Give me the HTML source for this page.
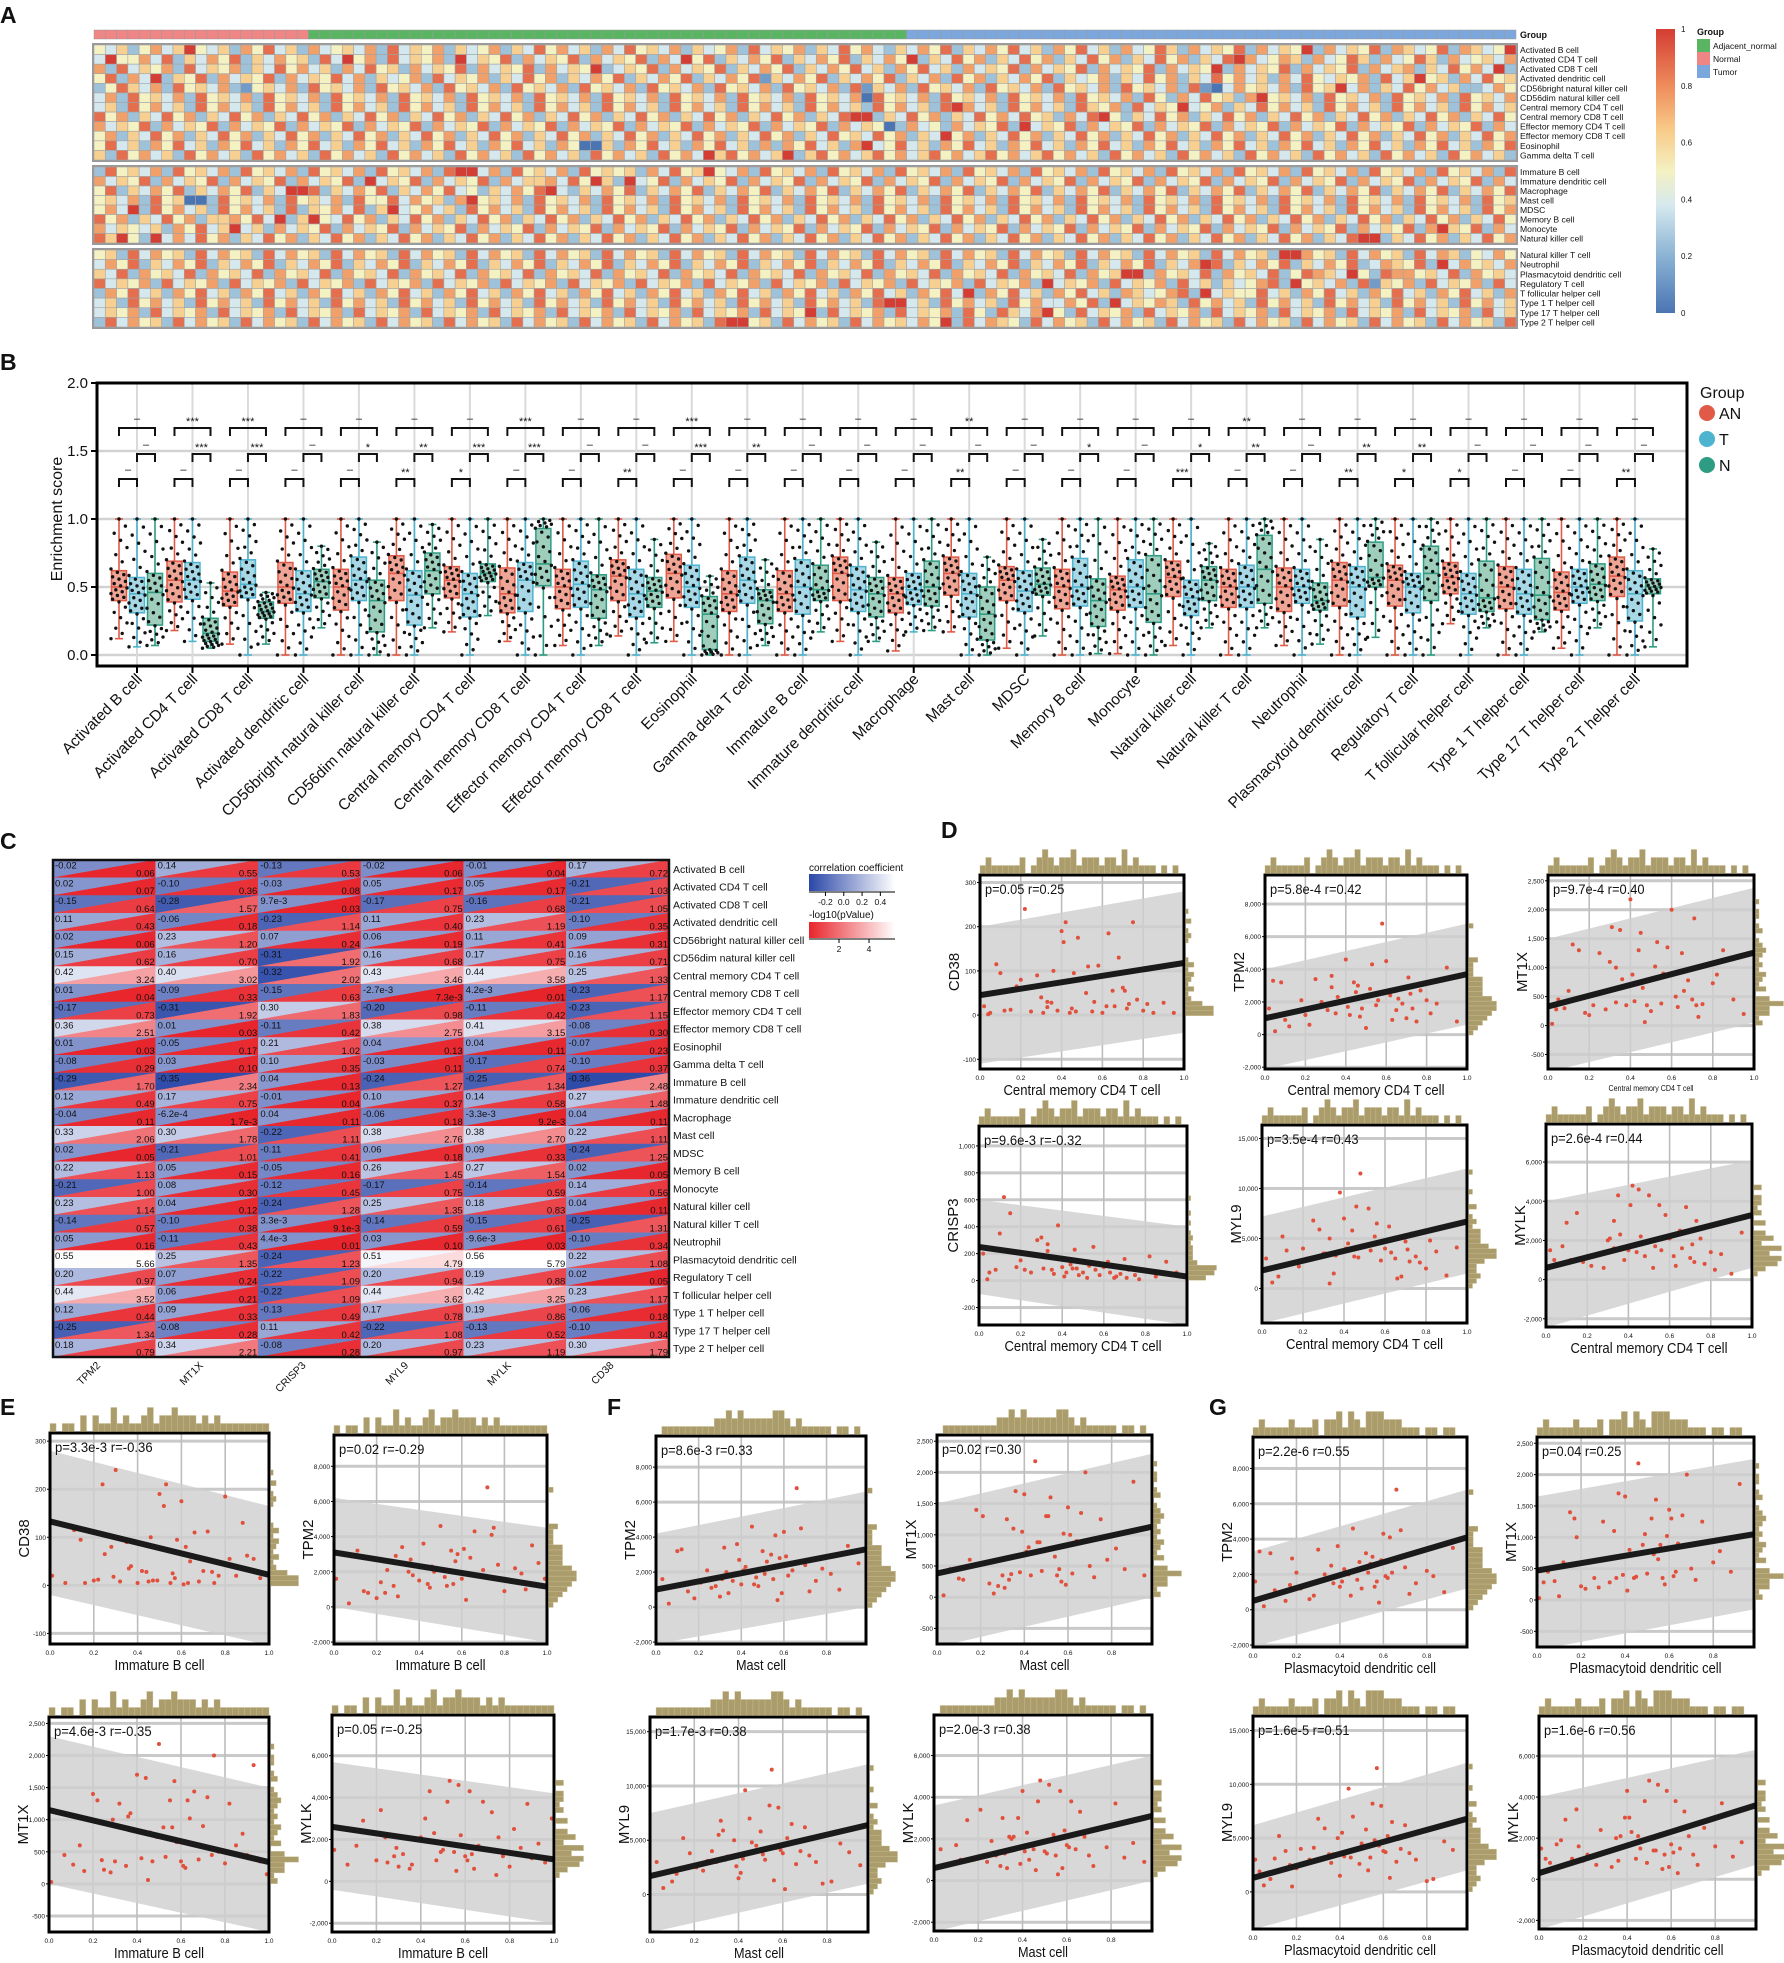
<!DOCTYPE html>
<html><head><meta charset="utf-8">
<style>
body{margin:0;background:#fff}
svg text{font-family:"Liberation Sans",Arial,sans-serif;fill:#111}
</style></head>
<body>
<svg id="fig" width="1784" height="1958" viewBox="0 0 1784 1958" xmlns="http://www.w3.org/2000/svg">
<rect x="0" y="0" width="1784" height="1958" fill="#fff"/>
<text x="0" y="23" font-size="23" font-weight="bold">A</text>
<text x="0" y="370" font-size="23" font-weight="bold">B</text>
<text x="0" y="849" font-size="23" font-weight="bold">C</text>
<text x="941" y="838" font-size="23" font-weight="bold">D</text>
<text x="0" y="1415" font-size="23" font-weight="bold">E</text>
<text x="607" y="1415" font-size="23" font-weight="bold">F</text>
<text x="1209" y="1415" font-size="23" font-weight="bold">G</text>
<g id="gA"></g>
<g id="gB"></g>
<g id="gC"></g>
<g id="gS"></g>
</svg>
<script>
const NS='http://www.w3.org/2000/svg';
function mk(tag,attrs,parent){const e=document.createElementNS(NS,tag);for(const k in attrs)e.setAttribute(k,attrs[k]);if(parent)parent.appendChild(e);return e;}
function txt(str,attrs,parent){const e=mk('text',attrs,parent);e.textContent=str;return e;}
function hex(c){return [parseInt(c.substr(1,2),16),parseInt(c.substr(3,2),16),parseInt(c.substr(5,2),16)];}
function lerpStops(stops,t){t=Math.max(0,Math.min(1,t));for(let i=1;i<stops.length;i++){if(t<=stops[i][0]){const a=stops[i-1],b=stops[i];const u=(t-a[0])/(b[0]-a[0]);const ca=hex(a[1]),cb=hex(b[1]);return 'rgb('+ca.map((v,k)=>Math.round(v+(cb[k]-v)*u)).join(',')+')';}}return stops[stops.length-1][1];}

/* ================= PANEL A DATA ================= */
const heatRows=['Activated B cell','Activated CD4 T cell','Activated CD8 T cell','Activated dendritic cell','CD56bright natural killer cell','CD56dim natural killer cell','Central memory CD4 T cell','Central memory CD8 T cell','Effector memory CD4 T cell','Effector memory CD8 T cell','Eosinophil','Gamma delta T cell','Immature  B cell','Immature dendritic cell','Macrophage','Mast cell','MDSC','Memory B cell','Monocyte','Natural killer cell','Natural killer T cell','Neutrophil','Plasmacytoid dendritic cell','Regulatory T cell','T follicular helper cell','Type 1 T helper cell','Type 17 T helper cell','Type 2 T helper cell'];
const heatGroupCounts=[19,53,54];
const heatGroupNames=['Normal','Adjacent_normal','Tumor'];
const heatDigits=[
"5463574695 4637584637 4564738465 7364573648 5746374856 4736457384 6573648574 3647583647 5846375846 3745863746 5837465937 4658376458 3764593746",
"6475836495 5748364758 3647563849 5738465739 4658374658 3746583749 5836475836 4758364759 3648573648 5736485736 4857364897 4576374586 3745863745",
"7364857493 3645738465 7384657364 8574637485 6374658374 6583746593 4658374658 3647583647 5846375846 3746583746 5837465837 4659374658 3746583746",
"4657384695 6374856374 6583749365 8374658374 6584736457 3846573648 5736475836 4758364758 2647583647 5836473857 3647583645 7364857364 8574637485",
"5647385694 7364857463 3475864735 8647385647 3256473856 4738564738 5647385647 3856473856 4738564738 5647382647 3856473856 4738564738 5647382147",
"3748563795 6473856473 8564738564 7385647385 6473856473 8564738564 7385647385 6473856473 8564738564 7385647385 6471856473 8564738564 7385647385",
"6573846594 5736485746 3857463857 4638574638 5746385746 3857463857 4638574638 5746385746 3857463857 4638574638 5746385746 3857463897 4638574638",
"4856374895 3648573648 5736485736 4857364857 3648573648 5736485736 4857364857 3648573648 5736485736 4857364857 3648573648 5736489936 4857364857",
"5374658394 6583746583 7465837465 8374658374 6583746583 7465837465 8374658374 6583746583 7465837465 8374658374 6583746583 7465837465 8374651374",
"6485736495 7364857364 8573648573 6485736485 7364857364 8573648573 6485736485 7364857364 8573648573 6485736485 7364857364 8573648573 6485736485",
"3758463794 5846375846 3758463758 4637584637 5846375846 3758463758 4637584637 5846375846 3758463758 4637584637 5846375846 3751163758 4637584637",
"4968574693 6857468574 6857468574 6857463857 4638574638 5746385746 3857463857 4638574638 5746385746 3857463857 4638574638 5746385746 3857463857",
"5637485695 4738564738 5647385647 3856473856 4738564738 5647385647 3856473856 4738564738 5647385647 3856473856 4738564738 5647389947 3856473856",
"6748596394 5837465837 4658374658 3746583746 5837465837 4658374658 3746583746 5837465837 4658374658 3746583746 5837465837 4658394658 3746583746",
"4536475894 3647583647 5836475836 4758364758 3647583647 5836475836 4758364758 3647583647 5836475836 4758364758 3647583647 5836499836 4758364758",
"5847563795 6473856473 8564738564 7385647385 6473856473 8564738564 7385647385 6473856473 8564738564 7385647385 6473856473 8561138564 7385647385",
"3657483694 5746385746 3857463857 4638574638 5746385746 3857463857 4638574638 5746385746 3857463857 4638574638 5746385746 3857493857 4638574638",
"6758493695 4857364857 3648573648 5736485736 4857364857 3648573648 5736485736 4857364857 3648573648 5736485736 4857364857 3648593648 5736485736",
"4637584694 6374658374 6583746583 7465837465 8374658374 6583746583 7465837465 8374658374 6583746583 7465837465 8374658374 6583796583 7465837465",
"5748695394 7485736485 7364857364 8573648573 6485736485 7364857364 8573648573 6485736485 7364857364 8573648573 6485736485 7364899364 8573648573",
"6354758463 5638475638 4756384756 3847563847 5638475638 4756384756 3847563847 5638475638 4756384756 3847563847 5638475638 4756399756 3847563847",
"4765839475 6475836475 8364758364 7583647583 6475836475 8364758364 7583647583 6475836475 8364758364 7583647583 6475836475 8364798364 7583647583",
"5876495387 7564837564 8375648375 6483756483 7564837564 8375648375 6483756483 7564837564 8375648375 6483756483 7564837564 8375699375 6483756483",
"3645783956 4738265738 4657384657 3846573846 5738465738 4657384657 3846573846 5738465738 4657384657 3846573846 5738465738 4657394657 3846573846",
"6457839465 5846375846 3758463758 4637584637 5846375846 3758463758 4637584637 5846375846 3758463758 4637584637 5846375846 3758493758 4637584637",
"4758394657 6385746385 7463857463 8574638574 6385746385 7463857463 8574638574 6385746385 7463857463 8574638574 6385746385 7463899463 8574638574",
"5386479538 4657384657 3846573846 5738465738 4657384657 3846573846 5738465738 4657384657 3846573846 5738465738 4657384657 3846593846 5738465738",
"6475938476 5384756384 7563847563 8475638475 6384756384 7563847563 8475638475 6384756384 7563847563 8475638475 6384756384 7563899563 8475638475"
];
/* ================= PANEL A DRAW ================= */
(function(){
 const gA=document.getElementById('gA');
 const x0=94,x1=1516,ncol=heatGroupCounts.reduce((a,b)=>a+b,0),cw=(x1-x0)/ncol;
 const stops=[[0,'#4a75b2'],[0.2,'#8ab3d4'],[0.38,'#d6e9ee'],[0.5,'#f4f1c2'],[0.65,'#f8c987'],[0.8,'#ee8c5c'],[1,'#d43d33']];
 const gcol={'Normal':'#ef8585','Adjacent_normal':'#5ab562','Tumor':'#7ca7dc'};
 let c=0;
 heatGroupCounts.forEach((n,gi)=>{for(let k=0;k<n;k++){const r=mk('rect',{x:x0+c*cw,y:30,width:cw,height:9,fill:gcol[heatGroupNames[gi]],stroke:'#9a9a9a','stroke-width':0.5},gA);
   
   c++;}});
 const gl=txt('Group',{x:1520,y:38,'font-size':9,'font-weight':'bold'},gA);
 
 
 const blocks=[[0,12,45,160],[12,20,167,243],[20,28,250,327]];
 blocks.forEach(b=>{
  const rh=(b[3]-b[2])/(b[1]-b[0]);
  const fr=mk('rect',{x:x0-1,y:b[2]-1,width:x1-x0+2,height:b[3]-b[2]+2,fill:'none',stroke:'#999','stroke-width':2},gA);
  
  
  for(let r=b[0];r<b[1];r++){
   const s=heatDigits[r].replace(/ /g,'');
   const y=b[2]+(r-b[0])*rh;
   for(let j=0;j<ncol;j++){
    const ch=s[(j+r*7)%s.length];
    const d=Math.max(0,Math.min(1,(parseInt(ch||'5')-1)/8));
    const cell=mk('rect',{x:x0+j*cw,y:y,width:cw,height:rh,fill:lerpStops(stops,d),stroke:'#a3a3a3','stroke-width':0.6},gA);
    
    
   }
   const lb=txt(heatRows[r],{x:1520,y:y+rh/2+3.2,'font-size':8.6},gA);
   
   
  }
 });
 const defs=mk('defs',{},gA);
 const lg=mk('linearGradient',{id:'cbA',x1:0,y1:1,x2:0,y2:0},defs);
 stops.forEach(s=>mk('stop',{offset:s[0],'stop-color':s[1]},lg));
 const cb=mk('rect',{x:1656,y:29,width:19,height:284,fill:'url(#cbA)'},gA);
 
 
 ['0','0.2','0.4','0.6','0.8','1'].forEach((t,i)=>{const tt=txt(t,{x:1681,y:313-i*56.8+3,'font-size':8},gA);
  
  });
 const lgT=txt('Group',{x:1697,y:35,'font-size':9,'font-weight':'bold'},gA);
 
 
 heatGroupNames.slice().sort().forEach((n,i)=>{
  const sw=mk('rect',{x:1697,y:39+i*13,width:13,height:13,fill:gcol[n]},gA);
  
  
  const lt=txt(n,{x:1713,y:49+i*13,'font-size':8.5},gA);
  
  
 });
})();

/* ================= PANEL B DATA ================= */
const bxCells=['Activated B cell','Activated CD4 T cell','Activated CD8 T cell','Activated dendritic cell','CD56bright natural killer cell','CD56dim natural killer cell','Central memory CD4 T cell','Central memory CD8 T cell','Effector memory CD4 T cell','Effector memory CD8 T cell','Eosinophil','Gamma delta T cell','Immature B cell','Immature dendritic cell','Macrophage','Mast cell','MDSC','Memory B cell','Monocyte','Natural killer cell','Natural killer T cell','Neutrophil','Plasmacytoid dendritic cell','Regulatory T cell','T follicular helper cell','Type 1 T helper cell','Type 17 T helper cell','Type 2 T helper cell'];
const bxAN=[[.12,.40,.50,.62,1],[.18,.39,.55,.69,1],[.08,.36,.47,.61,1],[0,.38,.50,.68,1],[0,.33,.50,.63,1],[0,.40,.60,.73,1],[.17,.42,.55,.65,1],[.10,.31,.45,.64,1],[.07,.34,.50,.63,1],[.14,.40,.58,.70,1],[.10,.42,.60,.74,1],[0,.32,.45,.62,1],[0,.32,.45,.62,1],[.10,.40,.60,.72,1],[.03,.31,.45,.57,1],[.17,.44,.60,.72,1],[.05,.40,.55,.65,1],[0,.34,.50,.63,1],[.01,.33,.48,.58,1],[.07,.43,.57,.69,1],[0,.35,.50,.63,1],[.07,.32,.50,.64,1],[0,.36,.55,.68,1],[0,.36,.55,.66,1],[.23,.45,.57,.68,1],[0,.34,.50,.65,1],[.05,.33,.46,.61,1],[0,.43,.58,.72,1]];
const bxT=[[.06,.31,.45,.57,1],[.10,.41,.55,.68,1],[0,.42,.52,.70,1],[0,.32,.45,.62,1],[0,.40,.55,.72,1],[0,.22,.44,.62,1],[0,.28,.45,.60,1],[0,.32,.55,.68,1],[0,.35,.52,.69,1],[0,.28,.45,.63,1],[0,.35,.50,.66,1],[0,.38,.55,.72,1],[0,.30,.50,.70,1],[0,.32,.48,.65,1],[.17,.37,.48,.60,1],[0,.28,.45,.60,1],[0,.32,.47,.62,1],[0,.36,.50,.71,1],[0,.35,.50,.70,1],[0,.29,.42,.55,1],[0,.35,.50,.66,1],[0,.38,.50,.63,1],[0,.28,.50,.65,1],[0,.31,.50,.60,1],[0,.30,.45,.60,1],[0,.30,.45,.63,1],[0,.38,.50,.63,1],[0,.25,.45,.62,1]];
const bxN=[[.07,.22,.46,.60,1],[.05,.10,.16,.27,.53],[.08,.27,.32,.39,.46],[.20,.42,.54,.63,.80],[0,.17,.40,.55,.83],[.20,.45,.62,.75,.96],[.29,.54,.60,.67,1],[0,.51,.67,.93,1],[.07,.27,.48,.59,1],[.09,.35,.47,.57,.85],[0,.04,.30,.43,.58],[.07,.23,.40,.48,.70],[.17,.40,.48,.66,1],[.10,.28,.45,.57,.83],[.18,.36,.50,.69,1],[0,.11,.30,.50,.72],[.14,.44,.52,.64,.85],[.01,.21,.40,.56,1],[0,.24,.45,.73,1],[.20,.40,.55,.65,.82],[.20,.38,.63,.88,1],[.08,.33,.40,.53,.85],[.13,.50,.57,.83,1],[0,.40,.60,.80,1],[.20,.32,.42,.69,1],[.17,.26,.44,.71,1],[.20,.40,.52,.67,1],[.06,.45,.50,.56,.78]];
const sigTop=['-','***','***','-','-','-','-','***','-','-','***','-','-','-','-','**','-','-','-','-','**','-','-','-','-','-','-','-'];
const sigMid=['-','***','***','-','*','**','***','***','-','-','***','**','-','-','-','-','-','*','-','*','**','-','**','**','-','-','-','-'];
const sigLow=['-','-','-','-','-','**','*','-','-','**','-','-','-','-','-','**','-','-','-','***','-','-','**','*','*','-','-','**'];
const bTicks=[0,0.5,1,1.5,2];
const bTickLabels=['0.0','0.5','1.0','1.5','2.0'];
/* ================= PANEL B DRAW ================= */
(function(){
 const g=document.getElementById('gB');
 const L=97,R=1687,T=383,B=666;
 const Y=v=>655-v*136;
 const cx=i=>137+i*55.48;
 const cols={AN:['#e05a47','#eea596'],T:['#4db3cf','#a8d8e6'],N:['#2e9c82','#9fcfbc']};
 bTicks.forEach((v,i)=>{
  const gl=mk('line',{x1:L,x2:R,y1:Y(v),y2:Y(v),stroke:'#d2d2d2','stroke-width':2.5},g);
  
  
  const tl=txt(bTickLabels[i],{x:88,y:Y(v)+5,'font-size':15,'text-anchor':'end'},g);
  
  
  const tk=mk('line',{x1:L-6,x2:L,y1:Y(v),y2:Y(v),stroke:'#000','stroke-width':2},g);
  
  
 });
 bxCells.forEach((n,i)=>{
  const vl=mk('line',{x1:cx(i),x2:cx(i),y1:T,y2:B,stroke:'#dadada','stroke-width':2},g);
  
  
 });
 const yl=txt('Enrichment score',{x:0,y:0,'font-size':16,'text-anchor':'middle',transform:'translate(62,519) rotate(-90)'},g);
 
 
 const groups=[['AN',bxAN,-18],['T',bxT,0],['N',bxN,18]];
 bxCells.forEach((name,i)=>{
  groups.forEach(gr=>{
   const s=gr[1][i],x=cx(i)+gr[2],c=cols[gr[0]];
   const bg=mk('g',{},g);
   
   
   mk('line',{x1:x,x2:x,y1:Y(s[0]),y2:Y(s[4]),stroke:c[0],'stroke-width':1.6},bg);
   mk('line',{x1:x-4,x2:x+4,y1:Y(s[0]),y2:Y(s[0]),stroke:c[0],'stroke-width':1.6},bg);
   mk('line',{x1:x-4,x2:x+4,y1:Y(s[4]),y2:Y(s[4]),stroke:c[0],'stroke-width':1.6},bg);
   mk('rect',{x:x-7.5,y:Y(s[3]),width:15,height:Y(s[1])-Y(s[3]),fill:c[1],stroke:c[0],'stroke-width':1.5},bg);
   mk('line',{x1:x-7.5,x2:x+7.5,y1:Y(s[2]),y2:Y(s[2]),stroke:c[0],'stroke-width':1.6},bg);
   const n=30;
   for(let k=0;k<n;k++){
    const q=k/(n-1)*4;const seg=Math.min(3,Math.floor(q));const u=q-seg;
    const v=s[seg]+(s[seg+1]-s[seg])*u;
    const off=(((k*7)%11)-5)/5*8;
    const pt=mk('circle',{cx:x+off,cy:Y(v),r:1.7,fill:'#111'},bg);
    
    
   }
  });
  const brk=[[cx(i)-18,cx(i)+18,428,sigTop[i]],[cx(i),cx(i)+18,454,sigMid[i]],[cx(i)-18,cx(i),479,sigLow[i]]];
  brk.forEach(b=>{
   const p=mk('path',{d:'M'+b[0]+','+(b[2]+8)+'V'+b[2]+'H'+b[1]+'V'+(b[2]+8),fill:'none',stroke:'#111','stroke-width':2},g);
   
   
   const st=txt(b[3]==='-'?'–':b[3],{x:(b[0]+b[1])/2,y:b[2]-(b[3]==='-'?6:3),'font-size':11,'text-anchor':'middle'},g);
   
   
  });
  const tk=mk('line',{x1:cx(i),x2:cx(i),y1:B,y2:B+7,stroke:'#000','stroke-width':2},g);
  
  
  const xl=txt(name,{x:0,y:0,'font-size':15.5,'text-anchor':'end',transform:'translate('+(cx(i)+6)+',680) rotate(-45)'},g);
  
  
 });
 const fr=mk('rect',{x:L,y:T,width:R-L,height:B-T,fill:'none',stroke:'#000','stroke-width':3},g);
 
 
 const lt=txt('Group',{x:1700,y:398,'font-size':16},g);
 
 
 [['AN',413],['T',439],['N',465]].forEach(e=>{
  const c=mk('circle',{cx:1707,cy:e[1],r:8,fill:cols[e[0]][0]},g);
  
  
  const t=txt(e[0],{x:1719,y:e[1]+6,'font-size':16},g);
  
  
 });
})();

/* ================= PANEL C DATA ================= */
const corrGenes=['TPM2','MT1X','CRISP3','MYL9','MYLK','CD38'];
const corrR=[
['-0.02','0.14','-0.13','-0.02','-0.01','0.17'],['0.02','-0.10','-0.03','0.05','0.05','-0.21'],['-0.15','-0.28','9.7e-3','-0.17','-0.16','-0.21'],['0.11','-0.06','-0.23','0.11','0.23','-0.10'],['0.02','0.23','0.07','0.06','0.11','0.09'],['0.15','0.16','-0.31','0.16','0.17','0.16'],['0.42','0.40','-0.32','0.43','0.44','0.25'],['0.01','-0.09','-0.15','-2.7e-3','4.2e-3','-0.23'],['-0.17','-0.31','0.30','-0.20','-0.11','-0.23'],['0.36','0.01','-0.11','0.38','0.41','-0.08'],['0.01','-0.05','0.21','0.04','0.04','-0.07'],['-0.08','0.03','0.10','-0.03','-0.17','-0.10'],['-0.29','-0.35','0.04','-0.24','-0.25','-0.36'],['0.12','0.17','-0.01','0.10','0.14','0.27'],['-0.04','-6.2e-4','0.04','-0.06','-3.3e-3','0.04'],['0.33','0.30','-0.22','0.38','0.38','0.22'],['0.02','-0.21','-0.11','0.06','0.09','-0.24'],['0.22','0.05','-0.05','0.26','0.27','0.02'],['-0.21','0.08','-0.12','-0.17','-0.14','0.14'],['0.23','0.04','-0.24','0.25','0.18','0.04'],['-0.14','-0.10','3.3e-3','-0.14','-0.15','-0.25'],['0.05','-0.11','4.4e-3','0.03','-9.6e-3','-0.10'],['0.55','0.25','-0.24','0.51','0.56','0.22'],['0.20','0.07','-0.22','0.20','0.19','0.02'],['0.44','0.06','-0.22','0.44','0.42','0.23'],['0.12','0.09','-0.13','0.17','0.19','-0.06'],['-0.25','-0.08','0.11','-0.22','-0.13','-0.10'],['0.18','0.34','-0.08','0.20','0.23','0.30']];
const corrP=[
['0.06','0.55','0.53','0.06','0.04','0.72'],['0.07','0.36','0.08','0.17','0.17','1.03'],['0.64','1.57','0.03','0.75','0.68','1.05'],['0.43','0.18','1.14','0.40','1.19','0.35'],['0.06','1.20','0.24','0.19','0.41','0.31'],['0.62','0.70','1.92','0.68','0.75','0.71'],['3.24','3.02','2.02','3.46','3.58','1.33'],['0.04','0.33','0.63','7.3e-3','0.01','1.17'],['0.73','1.92','1.83','0.98','0.42','1.15'],['2.51','0.03','0.42','2.75','3.15','0.30'],['0.03','0.17','1.02','0.13','0.11','0.23'],['0.29','0.10','0.35','0.11','0.74','0.37'],['1.70','2.34','0.13','1.27','1.34','2.48'],['0.49','0.75','0.04','0.37','0.58','1.48'],['0.11','1.7e-3','0.11','0.18','9.2e-3','0.11'],['2.06','1.78','1.11','2.76','2.70','1.11'],['0.05','1.01','0.41','0.18','0.33','1.25'],['1.13','0.15','0.16','1.45','1.54','0.05'],['1.00','0.30','0.45','0.75','0.59','0.56'],['1.14','0.12','1.28','1.35','0.83','0.11'],['0.57','0.38','9.1e-3','0.59','0.61','1.31'],['0.16','0.43','0.01','0.10','0.03','0.34'],['5.66','1.35','1.23','4.79','5.79','1.08'],['0.97','0.24','1.09','0.94','0.88','0.05'],['3.52','0.21','1.09','3.62','3.25','1.17'],['0.44','0.33','0.49','0.78','0.86','0.18'],['1.34','0.28','0.42','1.08','0.52','0.34'],['0.79','2.21','0.28','0.97','1.19','1.79']];
/* ================= PANEL C DRAW ================= */
(function(){
 const g=document.getElementById('gC');
 const x0=53,y0=860,cw=(669-53)/6,rh=(1357-860)/28;
 const cS=[[0,'#2a47a8'],[1,'#ffffff']];
 const pS=[[0,'#e8242b'],[1,'#ffffff']];
 const cT=v=>(v+0.38)/0.94, pT=v=>v/5.73;
 heatRows.forEach((rn,r)=>{
  const y=y0+r*rh;
  corrGenes.forEach((gn,c)=>{
   const x=x0+c*cw;
   const rv=parseFloat(corrR[r][c]),pv=parseFloat(corrP[r][c]);
   const cg=mk('g',{},g);
   
   
   mk('polygon',{points:x+','+y+' '+(x+cw)+','+y+' '+x+','+(y+rh),fill:lerpStops(cS,cT(rv)),stroke:lerpStops(cS,cT(rv)),'stroke-width':0.5},cg);
   mk('polygon',{points:(x+cw)+','+y+' '+(x+cw)+','+(y+rh)+' '+x+','+(y+rh),fill:lerpStops(pS,pT(pv)),stroke:lerpStops(pS,pT(pv)),'stroke-width':0.5},cg);
   txt(corrR[r][c],{x:x+2,y:y+8.5,'font-size':9.5},cg);
   txt(corrP[r][c],{x:x+cw-1,y:y+rh-1.5,'font-size':9.5,'text-anchor':'end'},cg);
  });
  const lb=txt(rn.replace('  ',' '),{x:673,y:y+rh/2+4,'font-size':10.5},g);
  
  
 });
 const fr=mk('rect',{x:x0,y:y0,width:669-53,height:1357-860,fill:'none',stroke:'#111','stroke-width':2.5},g);
 
 
 corrGenes.forEach((gn,c)=>{
  const t=txt(gn,{x:0,y:0,'font-size':10.5,'text-anchor':'end',transform:'translate('+(x0+c*cw+48)+',1366) rotate(-45)'},g);
  
  
 });
 const defs=mk('defs',{},g);
 const g1=mk('linearGradient',{id:'gcorr'},defs);mk('stop',{offset:0,'stop-color':'#2a47a8'},g1);mk('stop',{offset:1,'stop-color':'#ffffff'},g1);
 const g2=mk('linearGradient',{id:'gp'},defs);mk('stop',{offset:0,'stop-color':'#e8242b'},g2);mk('stop',{offset:1,'stop-color':'#ffffff'},g2);
 const t1=txt('correlation coefficient',{x:809,y:871,'font-size':10},g);
 
 
 const b1=mk('rect',{x:809,y:874,width:86,height:17,fill:'url(#gcorr)'},g);
 
 
 mk('line',{x1:809,x2:895,y1:892,y2:892,stroke:'#000','stroke-width':1},g);
 [[-0.2,'-0.2'],[0,'0.0'],[0.2,'0.2'],[0.4,'0.4']].forEach(t=>{const x=809+(t[0]+0.38)/0.94*86;mk('line',{x1:x,x2:x,y1:892,y2:896,stroke:'#000'},g);
  const tt=txt(t[1],{x:x,y:905,'font-size':8.5,'text-anchor':'middle'},g);
  
  });
 const t2=txt('-log10(pValue)',{x:809,y:918,'font-size':10},g);
 
 
 const b2=mk('rect',{x:809,y:922,width:86,height:16,fill:'url(#gp)'},g);
 
 
 mk('line',{x1:809,x2:895,y1:939,y2:939,stroke:'#000','stroke-width':1},g);
 [[2,'2'],[4,'4']].forEach(t=>{const x=809+t[0]/5.73*86;mk('line',{x1:x,x2:x,y1:939,y2:943,stroke:'#000'},g);
  const tt=txt(t[1],{x:x,y:952,'font-size':8.5,'text-anchor':'middle'},g);
  
  });
})();

/* ================= SCATTER DATA ================= */
const cellCM4=[0.02,0.05,0.08,0.1,0.12,0.15,0.18,0.2,0.22,0.25,0.28,0.3,0.31,0.33,0.35,0.36,0.38,0.4,0.41,0.42,0.44,0.45,0.46,0.48,0.5,0.52,0.53,0.55,0.56,0.58,0.6,0.62,0.63,0.65,0.66,0.68,0.7,0.71,0.72,0.73,0.75,0.77,0.8,0.82,0.85,0.9,0.95,0.33,0.47,0.04];
const cellImmB=[0.01,0.07,0.11,0.14,0.2,0.22,0.25,0.28,0.3,0.32,0.35,0.37,0.4,0.42,0.44,0.46,0.47,0.5,0.52,0.53,0.55,0.57,0.58,0.6,0.62,0.64,0.66,0.68,0.7,0.72,0.75,0.77,0.8,0.82,0.85,0.88,0.9,0.93,0.96,0.99,0.24,0.36,0.49,0.56,0.63,0.74,0.16,0.29,0.45,0.61];
const cellMast=[0.03,0.06,0.1,0.15,0.18,0.21,0.24,0.28,0.3,0.32,0.33,0.35,0.36,0.38,0.4,0.42,0.43,0.45,0.47,0.48,0.5,0.52,0.54,0.55,0.57,0.58,0.6,0.62,0.64,0.66,0.68,0.7,0.72,0.75,0.78,0.82,0.86,0.9,0.95,0.31,0.34,0.39,0.41,0.46,0.51,0.56,0.59,0.61,0.26,0.12];
const cellPDC=[0.01,0.05,0.08,0.12,0.15,0.17,0.2,0.22,0.26,0.3,0.33,0.35,0.37,0.39,0.4,0.42,0.44,0.46,0.48,0.5,0.52,0.54,0.55,0.57,0.58,0.59,0.6,0.62,0.64,0.66,0.68,0.7,0.72,0.75,0.8,0.83,0.88,0.92,0.36,0.41,0.45,0.49,0.53,0.56,0.61,0.63,0.28,0.18,0.1,0.03];
const geneCD38=[20,5,115,95,10,12,65,80,240,8,90,40,5,30,28,100,10,190,165,210,5,15,95,175,80,50,110,8,30,112,5,20,185,55,20,130,62,55,15,25,210,35,10,25,5,28,5,18,8,2];
const geneTPM2=[1600,200,3200,900,500,1400,2100,1200,600,3400,2000,1800,1500,3600,1300,2300,2000,4600,1700,1200,3200,2600,3000,1600,400,2800,4300,1800,2100,6800,4500,2400,900,1500,2200,1900,1000,3500,2500,1600,800,2700,2100,1300,1900,4100,800,2900,1100,3300];
const geneMT1X=[30,450,300,600,1400,1300,220,180,350,1250,280,1100,1700,400,1650,800,350,2180,880,420,1300,1600,650,350,250,1020,1440,380,900,1350,2000,500,320,1250,600,780,450,1850,350,150,370,1050,730,880,1300,450,200,1000,60,280];
const geneCRISP3=[200,60,80,350,620,500,100,150,80,60,300,320,90,270,80,50,410,100,30,60,120,90,230,40,60,20,110,250,80,40,100,140,60,20,30,50,160,20,80,100,40,10,70,180,30,140,60,220,90,10];
const geneMYL9=[3000,600,1200,5200,3800,2500,2200,4000,3000,6800,5900,3500,3500,5000,1500,3300,9600,7000,4000,4500,5800,3200,8200,11500,4300,8000,3800,5200,6500,2800,4000,6200,3600,3000,1000,1200,4700,3900,2700,5500,3200,2600,2000,4800,3700,1300,4100,500,3100,1900];
const geneMYLK=[1500,800,1700,2900,1000,3400,900,1200,700,1300,600,2000,2100,3000,4300,2300,1000,1500,3800,4800,1400,4600,2200,1200,4300,600,1700,3800,1500,3300,2100,1200,700,2500,1600,3700,1100,1800,900,3000,2100,800,1400,500,1300,300,2400,1600,1900,1000];
const scGenes=['CD38','TPM2','MT1X','CRISP3','MYL9','MYLK','CD38','TPM2','MT1X','MYLK','TPM2','MT1X','MYL9','MYLK','TPM2','MT1X','MYL9','MYLK'];
const scCells=['Central memory CD4 T cell','Central memory CD4 T cell','Central memory CD4 T cell','Central memory CD4 T cell','Central memory CD4 T cell','Central memory CD4 T cell','Immature B cell','Immature B cell','Immature B cell','Immature B cell','Mast cell','Mast cell','Mast cell','Mast cell','Plasmacytoid dendritic cell','Plasmacytoid dendritic cell','Plasmacytoid dendritic cell','Plasmacytoid dendritic cell'];
const scPLabels=['p=0.05 r=0.25','p=5.8e-4 r=0.42','p=9.7e-4 r=0.40','p=9.6e-3 r=-0.32','p=3.5e-4 r=0.43','p=2.6e-4 r=0.44','p=3.3e-3 r=-0.36','p=0.02 r=-0.29','p=4.6e-3 r=-0.35','p=0.05 r=-0.25','p=8.6e-3 r=0.33','p=0.02 r=0.30','p=1.7e-3 r=0.38','p=2.0e-3 r=0.38','p=2.2e-6 r=0.55','p=0.04 r=0.25','p=1.6e-5 r=0.51','p=1.6e-6 r=0.56'];
const scFits=[[45,118,200,280,-110,-40],[1000,3700,4000,6800,-2100,600],[330,1260,1500,2380,-800,50],[250,30,600,400,-100,-330],[1800,6700,7200,12000,-3500,1500],[600,3300,4000,6100,-2450,600],[133,22,280,165,-20,-125],[3100,1150,6200,4500,0,-2000],[1150,340,2300,1500,0,-750],[2600,1050,5700,4200,-400,-2000],[1000,3300,4200,6600,-2100,0],[380,1130,1500,2300,-800,0],[1700,6400,7500,12000,-3500,1000],[600,3100,3600,6000,-2450,0],[500,4100,3300,6800,-2100,1200],[470,1050,1650,2250,-800,-150],[1300,6800,6200,12000,-3500,2000],[300,3600,4000,6300,-2450,700]];
const geneTicks={CD38:[-100,0,100,200,300],TPM2:[-2000,0,2000,4000,6000,8000],MT1X:[-500,0,500,1000,1500,2000,2500],CRISP3:[-200,0,200,400,600,800,1000],MYL9:[0,5000,10000,15000],MYLK:[-2000,0,2000,4000,6000]};
/* ================= SCATTER DRAW ================= */
(function(){
 const root=document.getElementById('gS');
 const cellData={'Central memory CD4 T cell':cellCM4,'Immature B cell':cellImmB,'Mast cell':cellMast,'Plasmacytoid dendritic cell':cellPDC};
 const geneData={CD38:geneCD38,TPM2:geneTPM2,MT1X:geneMT1X,CRISP3:geneCRISP3,MYL9:geneMYL9,MYLK:geneMYLK};
 const geneRange={CD38:[-122,317],TPM2:[-2110,9780],MT1X:[-750,2600],CRISP3:[-330,1148],MYL9:[-3450,16350],MYLK:[-2420,7945]};
 const layout=[[980,875,1184,1069],[1265,875,1467,1069],[1548,875,1754,1069],[979,1126,1187,1325],[1262,1125,1467,1323],[1546,1124,1752,1327],
  [50,1433,269,1644],[334,1435,547,1644],[49,1717,269,1932],[332,1715,554,1932],
  [656,1436,866,1644],[937,1435,1152,1644],[650,1717,868,1932],[934,1715,1152,1931],
  [1253,1437,1467,1647],[1537,1437,1754,1647],[1253,1716,1467,1929],[1539,1716,1756,1929]];
 const defs=mk('defs',{},root);
 layout.forEach((lay,i)=>{
  const [bx0,by0,bx1,by1]=lay;
  const gene=scGenes[i],cell=scCells[i];
  const xs=cellData[cell],ys=geneData[gene],yr=geneRange[gene];
  const xmax=i<10?1.0:0.985;
  const X=v=>bx0+v/xmax*(bx1-bx0);
  const Y=v=>by1-(v-yr[0])/(yr[1]-yr[0])*(by1-by0);
  const g=mk('g',{},root);
  
  
  const cp=mk('clipPath',{id:'cp'+i},defs);
  mk('rect',{x:bx0,y:by0,width:bx1-bx0,height:by1-by0},cp);
  const inner=mk('g',{'clip-path':'url(#cp'+i+')'},g);
  geneTicks[gene].forEach(t=>{
   const gl=mk('line',{x1:bx0,x2:bx1,y1:Y(t),y2:Y(t),stroke:'#c9c9c9','stroke-width':3},inner);
   
   
   mk('line',{x1:bx0-3,x2:bx0,y1:Y(t),y2:Y(t),stroke:'#000','stroke-width':1},g);
   const tl=txt(t.toLocaleString('en-US'),{x:bx0-4,y:Y(t)+2.5,'font-size':6.5,'text-anchor':'end'},g);
   
   
  });
  const xt=i<10?[0,0.2,0.4,0.6,0.8,1.0]:[0,0.2,0.4,0.6,0.8];
  xt.forEach(t=>{
   const vl=mk('line',{x1:X(t),x2:X(t),y1:by0,y2:by1,stroke:'#bdbdbd','stroke-width':1.6},inner);
   
   
   const tl=txt(t.toFixed(1),{x:X(t),y:by1+11,'font-size':6.5,'text-anchor':'middle'},g);
   
   
  });
  const f=scFits[i];
  const band=mk('polygon',{points:X(0)+','+Y(f[2])+' '+X(xmax)+','+Y(f[3])+' '+X(xmax)+','+Y(f[5])+' '+X(0)+','+Y(f[4]),fill:'#cfcfcf','fill-opacity':0.82},inner);
  
  
  xs.forEach((xv,k)=>{
   const pt=mk('circle',{cx:X(xv),cy:Y(ys[k]),r:2,fill:'#e0503c'},inner);
   
   
  });
  const ln=mk('line',{x1:X(0),y1:Y(f[0]),x2:X(xmax),y2:Y(f[1]),stroke:'#1a1a1a','stroke-width':6},inner);
  
  
  const fr=mk('rect',{x:bx0,y:by0,width:bx1-bx0,height:by1-by0,fill:'none',stroke:'#000','stroke-width':3},g);
  
  
  const nb=36,cnt=new Array(nb).fill(0);
  xs.forEach(v=>{cnt[Math.min(nb-1,Math.floor(v/xmax*nb))]++;});
  const mx=Math.max(...cnt),bw=(bx1-bx0)/nb;
  cnt.forEach((c,k)=>{if(!c)return;const h=c/mx*24;
   const r=mk('rect',{x:bx0+k*bw,y:by0-1.5-h,width:bw,height:h,fill:'#ab9c6c',stroke:'#c9bd92','stroke-width':0.4},g);
   
   });
  const nb2=40,cnt2=new Array(nb2).fill(0);
  ys.forEach(v=>{const k=Math.floor((v-yr[0])/(yr[1]-yr[0])*nb2);if(k>=0&&k<nb2)cnt2[k]++;});
  const mx2=Math.max(...cnt2),bh=(by1-by0)/nb2;
  cnt2.forEach((c,k)=>{if(!c)return;const w=c/mx2*28;
   const r=mk('rect',{x:bx1+1.5,y:by1-(k+1)*bh,width:w,height:bh,fill:'#ab9c6c',stroke:'#c9bd92','stroke-width':0.4},g);
   
   });
  const pl=txt(scPLabels[i],{x:bx0+5,y:by0+19,'font-size':14,textLength:scPLabels[i].length*6.1,lengthAdjust:'spacingAndGlyphs'},g);
  
  
  const yl=txt(gene,{x:0,y:0,'font-size':15,'text-anchor':'middle',transform:'translate('+(bx0-21)+','+((by0+by1)/2)+') rotate(-90)'},g);
  
  
  const small=(i===2);
  const lw={'Central memory CD4 T cell':157,'Immature B cell':90,'Mast cell':50,'Plasmacytoid dendritic cell':152}[cell];
  const xl=txt(cell,{x:(bx0+bx1)/2,y:by1+(small?22:26),'font-size':small?8.5:15,'text-anchor':'middle',textLength:small?85:lw,lengthAdjust:'spacingAndGlyphs'},g);
  
  
 });
})();
</script>
</body></html>
